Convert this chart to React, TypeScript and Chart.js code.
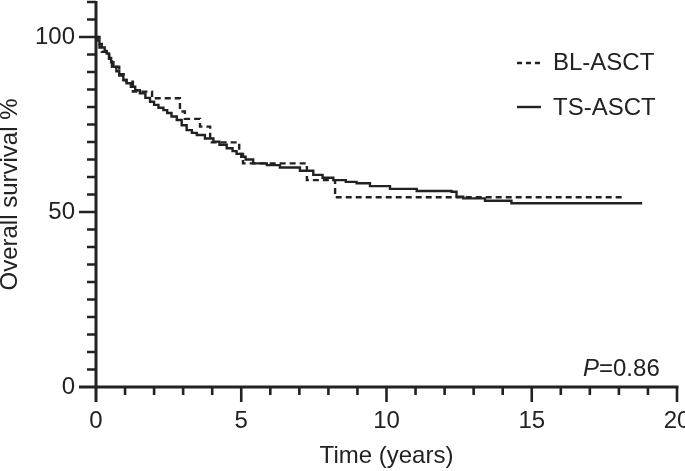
import React, { useEffect, useRef } from 'react';
import { Chart, registerables } from 'chart.js';

Chart.register(...registerables);

// ---- Data ----
const blTimes = [0, 0.12, 0.2, 0.45, 0.55, 0.8, 0.95, 1.05, 1.27, 1.93, 2.89, 3.06, 3.58, 3.93, 4.93, 5.06, 7.26, 8.23, 18.1];
const blSurvival = [100, 97, 95.8, 93, 91.5, 89.4, 87.7, 87.2, 84.4, 82.5, 78.7, 76.6, 74.4, 69.9, 66.6, 63.9, 59.1, 54.2, 54.2];

const tsTimes = [0, 0.05, 0.12, 0.2, 0.3, 0.37, 0.45, 0.52, 0.6, 0.7, 0.8, 0.94, 1.05, 1.2, 1.35, 1.51, 1.7, 1.86, 2.0, 2.15, 2.32, 2.45, 2.6, 2.78, 2.95, 3.12, 3.3, 3.47, 3.75, 4.04, 4.25, 4.5, 4.7, 4.84, 5.0, 5.15, 5.41, 5.88, 6.33, 7.02, 7.48, 7.8, 8.17, 8.6, 8.97, 9.43, 10.12, 11.04, 12.24, 12.41, 12.64, 13.39, 14.3, 18.8];
const tsSurvival = [100, 99, 98, 97, 96, 95.3, 94, 92.8, 91.5, 90.2, 89, 87.7, 86.8, 85.8, 84.8, 83.9, 82.6, 81.5, 80.6, 79.8, 79.1, 78.3, 77.3, 76.3, 74.8, 73.4, 72.6, 72, 71, 70.1, 69.2, 68.2, 67.4, 66.6, 65.8, 65, 63.9, 63.4, 62.7, 61.8, 60.6, 59.8, 59.1, 58.6, 58.2, 57.4, 56.6, 56.0, 55.8, 54.4, 53.9, 53.2, 52.5, 52.5];

const seriesNames = ['BL-ASCT', 'TS-ASCT'];
const xLabelTicks = [0, 5, 10, 15, 20];
const yLabelTicks = [0, 50, 100];
const xTitle = 'Time (years)';
const yTitle = 'Overall survival %';
const pValue = '=0.86';

const FONT = '"Liberation Sans", Arial, Helvetica, sans-serif';
const INK = '#222222';

const kmAxesPlugin = {
  id: 'kmAxes',
  afterDraw(chart: any) {
    const { ctx, scales } = chart;
    const x = scales.x;
    const y = scales.y;
    const x0 = x.getPixelForValue(0);
    const y0 = y.getPixelForValue(0);
    const yTop = y.getPixelForValue(y.max);
    const xEnd = x.getPixelForValue(x.max);
    ctx.save();
    ctx.strokeStyle = INK;
    ctx.lineCap = 'butt';
    ctx.lineWidth = 3;
    ctx.beginPath();
    ctx.moveTo(x0, yTop - 1);
    ctx.lineTo(x0, y0 + 15);
    ctx.moveTo(x0 - 17, y0);
    ctx.lineTo(xEnd + 1.5, y0);
    ctx.stroke();
    ctx.lineWidth = 2.6;
    ctx.beginPath();
    y.ticks.forEach((t: any) => {
      if (t.value === 0) return;
      const py = y.getPixelForValue(t.value);
      const len = yLabelTicks.includes(t.value) ? 17 : 9;
      ctx.moveTo(x0 - len, py);
      ctx.lineTo(x0, py);
    });
    x.ticks.forEach((t: any) => {
      if (t.value === 0) return;
      const px = x.getPixelForValue(t.value);
      const len = xLabelTicks.includes(t.value) ? 15 : 8;
      ctx.moveTo(px, y0);
      ctx.lineTo(px, y0 + len);
    });
    ctx.stroke();

    // legend
    const area = chart.chartArea;
    const lx = area.right - 160;
    const rows = [area.top + 61, area.top + 105];
    ctx.lineWidth = 2.4;
    ctx.setLineDash([5, 4]);
    ctx.beginPath();
    ctx.moveTo(lx, rows[0]);
    ctx.lineTo(lx + 24, rows[0]);
    ctx.stroke();
    ctx.setLineDash([]);
    ctx.beginPath();
    ctx.moveTo(lx, rows[1]);
    ctx.lineTo(lx + 24, rows[1]);
    ctx.stroke();
    ctx.fillStyle = INK;
    ctx.font = `24px ${FONT}`;
    ctx.textBaseline = 'middle';
    ctx.textAlign = 'left';
    ctx.fillText(seriesNames[0], lx + 36, rows[0]);
    ctx.fillText(seriesNames[1], lx + 36, rows[1] + 1);

    // p value
    const py = area.bottom - 18;
    const px = area.right - 94;
    ctx.font = `italic 24px ${FONT}`;
    ctx.fillText('P', px, py);
    const pw = ctx.measureText('P').width;
    ctx.font = `24px ${FONT}`;
    ctx.fillText(pValue, px + pw, py);
    ctx.restore();
  },
};

export default function App() {
  const canvasRef = useRef<HTMLCanvasElement | null>(null);

  useEffect(() => {
    const canvas = canvasRef.current;
    if (!canvas) return;
    const chart = new Chart(canvas, {
      type: 'line',
      data: {
        datasets: [
          {
            label: seriesNames[1],
            data: tsTimes.map((t, i) => ({ x: t, y: tsSurvival[i] })),
            borderColor: INK,
            borderWidth: 2.4,
            pointRadius: 0,
            stepped: true,
            fill: false,
          },
          {
            label: seriesNames[0],
            data: blTimes.map((t, i) => ({ x: t, y: blSurvival[i] })),
            borderColor: INK,
            borderWidth: 2.4,
            borderDash: [6, 4],
            pointRadius: 0,
            stepped: true,
            fill: false,
          },
        ],
      },
      options: {
        animation: false,
        responsive: true,
        maintainAspectRatio: false,
        layout: { padding: { top: 2, right: 8, bottom: 0, left: 0 } },
        plugins: { legend: { display: false }, tooltip: { enabled: false } },
        scales: {
          x: {
            type: 'linear',
            min: 0,
            max: 20,
            border: { display: false },
            grid: { display: true, drawOnChartArea: false, drawTicks: true, tickLength: 15, color: 'rgba(0,0,0,0)' },
            ticks: {
              stepSize: 1,
              autoSkip: false,
              maxRotation: 0,
              padding: 5,
              color: INK,
              font: { family: FONT, size: 24 },
              callback: (v: any) => (xLabelTicks.includes(Number(v)) ? String(v) : ''),
            },
            title: { display: true, text: xTitle, color: INK, font: { family: FONT, size: 24 }, padding: { top: 0, bottom: 0 } },
            afterFit: (s: any) => {
              s.height = 84;
              s.paddingLeft = 0;
              s.paddingRight = 0;
            },
          },
          y: {
            type: 'linear',
            min: 0,
            max: 110,
            border: { display: false },
            grid: { display: true, drawOnChartArea: false, drawTicks: true, tickLength: 17, color: 'rgba(0,0,0,0)' },
            ticks: {
              stepSize: 5,
              autoSkip: false,
              padding: 4,
              color: INK,
              font: { family: FONT, size: 24 },
              callback: (v: any) => (yLabelTicks.includes(Number(v)) ? String(v) : ''),
            },
            title: { display: true, text: yTitle, color: INK, font: { family: FONT, size: 24, lineHeight: 0.85 }, padding: { top: 0, bottom: 0 } },
            afterFit: (s: any) => {
              s.width = 96;
              s.paddingTop = 0;
              s.paddingBottom = 0;
            },
          },
        },
      },
      plugins: [kmAxesPlugin],
    });
    return () => chart.destroy();
  }, []);

  return (
    <div style={{ position: 'fixed', left: 0, top: 0, width: 685, height: 471, background: '#fff' }}>
      <canvas ref={canvasRef} />
    </div>
  );
}
